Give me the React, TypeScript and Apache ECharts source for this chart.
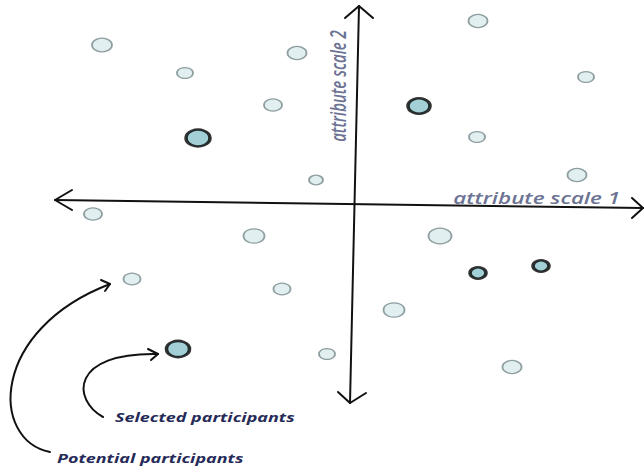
import React, { useEffect, useRef } from "react";
import * as echarts from "echarts";

// Potential participants: attribute scale 1, attribute scale 2, marker size
const potentialX = [-25.3, -17.0, -5.8, -8.2, 12.3, 23.1, 12.2, 22.2, -3.9, -26.2, -10.1, 8.5, -22.3, -7.3, 3.9, -2.8, 15.7];
const potentialY = [15.9, 13.1, 15.1, 9.9, 18.3, 12.7, 6.7, 2.9, 2.4, -1.0, -3.2, -3.2, -7.5, -8.5, -10.6, -15.0, -16.3];
const potentialSize = [20, 16, 19, 18, 19, 16, 16, 19, 14, 18, 21, 23, 17, 17, 21, 16, 19];

// Selected participants
const selectedX = [-15.7, 6.4, 12.3, 18.6, -17.7];
const selectedY = [6.6, 9.8, -6.9, -6.2, -14.5];
const selectedSize = [24, 22, 16, 16, 23];

const axisNames = ["attribute scale 1", "attribute scale 2"];
const annotations = ["Selected participants", "Potential participants"];

const FONT = "'Open Sans', 'DejaVu Sans', sans-serif";

export default function App() {
  const ref = useRef<HTMLDivElement>(null);
  useEffect(() => {
    document.body.style.margin = "0";
    if (!ref.current) return;
    const chart = echarts.init(ref.current, null, { renderer: "svg" });
    const pot = potentialX.map((x, i) => [x, potentialY[i], potentialSize[i]]);
    const sel = selectedX.map((x, i) => [x, selectedY[i], selectedSize[i]]);
    const xMin = -30.0, xMax = 28.8, yMin = -19.9, yMax = 19.8;
    chart.setOption({
      animation: false,
      backgroundColor: "#ffffff",
      grid: { left: 55, right: 1, top: 6, bottom: 63 },
      xAxis: {
        type: "value", min: xMin, max: xMax,
        axisLine: { show: false },
        axisTick: { show: false }, axisLabel: { show: false }, splitLine: { show: false },
      },
      yAxis: {
        type: "value", min: yMin, max: yMax,
        axisLine: { show: false },
        axisTick: { show: false }, axisLabel: { show: false }, splitLine: { show: false },
      },
      series: [
        {
          name: "Potential participants", type: "scatter", data: pot, clip: false, z: 5,
          symbol: "circle",
          symbolSize: (d: number[]) => [d[2], d[2] * 0.68],
          itemStyle: { color: "#d9ebee", borderColor: "#76878a", borderWidth: 1.5 },
        },
        {
          name: "Selected participants", type: "scatter", data: sel, clip: false, z: 5,
          symbol: "circle",
          symbolSize: (d: number[]) => [d[2], d[2] * 0.7],
          itemStyle: { color: "#8cc4cc", borderColor: "#000", borderWidth: 3 },
        },
      ],
    });

    const px = (x: number, y: number) => chart.convertToPixel({ gridIndex: 0 }, [x, y]) as number[];
    const l0 = px(xMin, 0), r0 = px(xMax, 0), t0 = px(0, yMax), b0 = px(0, yMin);
    // hand-drawn axes are slightly tilted
    const L = [l0[0], l0[1] - 4], R = [r0[0], r0[1] + 4];
    const T = [t0[0] + 4, t0[1]], B = [b0[0] - 5, b0[1]];
    const arrowStyle = { stroke: "#111", lineWidth: 2, fill: "none", lineCap: "round", lineJoin: "round" };
    const chev = (pts: number[][]) => ({ type: "polyline", shape: { points: pts }, style: arrowStyle, z: 10 });
    const p13 = px(potentialX[12], potentialY[12]);
    const pE = px(selectedX[4], selectedY[4]);
    const potEnd = [p13[0] - 22, p13[1] + 5];
    const selEnd = [pE[0] - 20, pE[1] + 5];
    const textStyleBase = {
      fontFamily: FONT, fontStyle: "italic",
      textShadowColor: "rgba(225,150,70,0.35)", textShadowOffsetX: -1, textShadowOffsetY: 0, textShadowBlur: 0,
    };
    chart.setOption({
      graphic: [
        { type: "line", shape: { x1: L[0], y1: L[1], x2: R[0], y2: R[1] }, style: arrowStyle, z: 10 },
        { type: "line", shape: { x1: T[0], y1: T[1], x2: B[0], y2: B[1] }, style: arrowStyle, z: 10 },
        chev([[L[0] + 17, L[1] - 10], L, [L[0] + 17, L[1] + 10]]),
        chev([[R[0] - 11, R[1] - 10], R, [R[0] - 11, R[1] + 10]]),
        chev([[T[0] - 14, T[1] + 12], T, [T[0] + 14, T[1] + 12]]),
        chev([[B[0] - 12, B[1] - 11], B, [B[0] + 16, B[1] - 10]]),
        {
          type: "text", x: R[0] - 23, y: R[1] - 10, scaleX: 1.4, z: 11,
          style: { ...textStyleBase, text: axisNames[0], fontSize: 16, fontWeight: 600, fill: "#6c7393", align: "right", verticalAlign: "middle" },
        },
        {
          type: "text", x: T[0] - 21, y: 86, rotation: Math.PI / 2, scaleY: 1.4, z: 11,
          style: { ...textStyleBase, text: axisNames[1], fontSize: 15, fontWeight: 600, fill: "#6c7393", align: "center", verticalAlign: "middle" },
        },
        {
          type: "bezierCurve", z: 10,
          shape: { x1: 50, y1: 452, cpx1: -10, cpy1: 440, cpx2: -10, cpy2: 330, x2: potEnd[0], y2: potEnd[1] },
          style: arrowStyle,
        },
        chev([[potEnd[0] - 9, potEnd[1] - 4], potEnd, [potEnd[0] - 5, potEnd[1] + 7]]),
        {
          type: "bezierCurve", z: 10,
          shape: { x1: 103, y1: 417, cpx1: 72, cpy1: 400, cpx2: 70, cpy2: 352, x2: selEnd[0], y2: selEnd[1] },
          style: arrowStyle,
        },
        chev([[selEnd[0] - 10, selEnd[1] - 5], selEnd, [selEnd[0] - 7, selEnd[1] + 6]]),
        {
          type: "text", x: 115, y: 417, scaleX: 1.38, z: 11,
          style: { ...textStyleBase, text: annotations[0], fontSize: 13, fontWeight: 700, fill: "#252a58", align: "left", verticalAlign: "middle" },
        },
        {
          type: "text", x: 57, y: 458, scaleX: 1.38, z: 11,
          style: { ...textStyleBase, text: annotations[1], fontSize: 13, fontWeight: 700, fill: "#252a58", align: "left", verticalAlign: "middle" },
        },
      ],
    });
    return () => chart.dispose();
  }, []);
  return <div ref={ref} style={{ width: 644, height: 466 }} />;
}
